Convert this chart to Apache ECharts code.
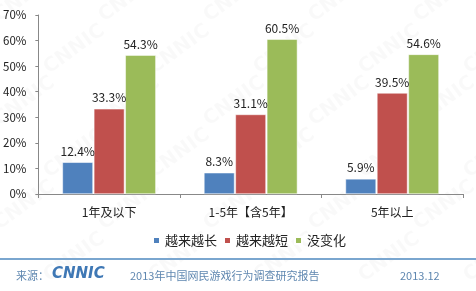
<!DOCTYPE html>
<html><head><meta charset="utf-8">
<script src="https://cdn.jsdelivr.net/npm/echarts@6/dist/echarts.min.js"></script>
<style>html,body{margin:0;padding:0;background:#fff}#c{width:476px;height:291px}</style>
</head><body><div id="c"></div>
<script>
const categories = ['1年及以下', '1-5年【含5年】', '5年以上'];
const seriesNames = ['越来越长', '越来越短', '没变化'];
const longer = [12.4, 8.3, 5.9];
const shorter = [33.3, 31.1, 39.5];
const unchanged = [54.3, 60.5, 54.6];
const yTicks = [0, 10, 20, 30, 40, 50, 60, 70];
const colors = ['#4f81bd', '#c0504d', '#9bbb59'];

const chart = echarts.init(document.getElementById('c'), null, {renderer: 'canvas'});
const font = '"Noto Sans CJK SC", "Noto Sans", sans-serif';
function mk(name, data, color) {
  return {
    name, type: 'bar', data, barGap: '3%', barCategoryGap: '34%',
    itemStyle: {color, borderColor: '#fff', borderWidth: 0.5},
    label: {show: true, position: 'top', formatter: p => p.value.toFixed(1) + '%', color: '#222', fontSize: 12, fontFamily: font, distance: 5}
  };
}
const marks = [];
for (let r = 0; r < 6; r++) {
  for (let c = 0; c < 5; c++) {
    marks.push({type: 'text', x: c * 105 + (r % 2) * 50 - 10, y: r * 52 + 10, rotation: Math.PI / 5, z: -10,
      style: {text: 'CNNIC', fontSize: 20, fontWeight: 'bold', fill: 'rgba(0,0,0,0.025)', fontFamily: 'DejaVu Sans'}});
  }
}
chart.setOption({
  animation: false,
  textStyle: {fontFamily: font},
  grid: {left: 38, right: 13, top: 15, bottom: 97},
  legend: {
    data: seriesNames, top: 229, left: 147, itemWidth: 7, itemHeight: 7, itemGap: 6,
    icon: 'rect', textStyle: {fontSize: 13, color: '#222', fontFamily: font}
  },
  xAxis: {
    type: 'category', data: categories,
    axisLine: {lineStyle: {color: '#888'}},
    axisTick: {show: true, length: 4, lineStyle: {color: '#888'}},
    axisLabel: {fontSize: 12, color: '#222', margin: 12, fontFamily: font}
  },
  yAxis: {
    type: 'value', min: yTicks[0], max: yTicks[yTicks.length - 1], interval: 10,
    axisLine: {show: true, lineStyle: {color: '#888'}},
    axisTick: {show: true, length: 3, lineStyle: {color: '#888'}},
    splitLine: {show: false},
    axisLabel: {formatter: v => v + '%', fontSize: 11.5, color: '#222', margin: 12, fontFamily: font}
  },
  series: [mk(seriesNames[0], longer, colors[0]), mk(seriesNames[1], shorter, colors[1]), mk(seriesNames[2], unchanged, colors[2])],
  graphic: marks.concat([
    {type: 'rect', shape: {x: 0, y: 258, width: 476, height: 2}, style: {fill: '#7aa6cf'}},
    {type: 'text', left: 16, top: 270, style: {text: '来源：', fontSize: 11, fill: '#5f87b0', fontFamily: font}},
    {type: 'text', left: 52, top: 267, style: {text: 'CNNIC', fontSize: 15, fontWeight: 'bold', fontStyle: 'italic', fill: '#3f78b5', fontFamily: 'DejaVu Sans'}},
    {type: 'text', left: 130, top: 270, style: {text: '2013年中国网民游戏行为调查研究报告', fontSize: 11, fill: '#5f87b0', fontFamily: font}},
    {type: 'text', left: 400, top: 270, style: {text: '2013.12', fontSize: 11, fill: '#5f87b0', fontFamily: font}}
  ])
});
</script></body></html>
